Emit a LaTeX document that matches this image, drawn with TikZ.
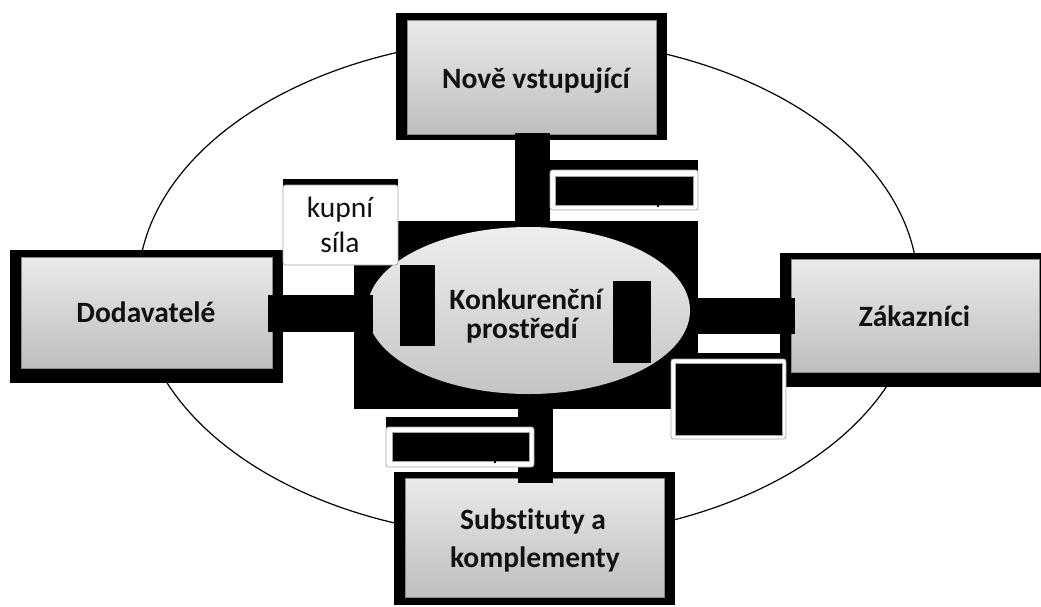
\documentclass[tikz,border=0pt]{standalone}
\usepackage{fontspec}
\setmainfont{Carlito}[Ligatures=NoCommon]
\usetikzlibrary{shapes.geometric}
\definecolor{boxtop}{HTML}{EAEAEA}
\definecolor{boxbot}{HTML}{BEBEBE}
\definecolor{boxedge}{HTML}{8A8A8A}
\definecolor{elltop}{HTML}{EEEEEE}
\definecolor{ellbot}{HTML}{C4C4C4}
\definecolor{ink}{HTML}{111111}
\definecolor{lbledge}{HTML}{A8A8A8}
\begin{document}
\begin{tikzpicture}[x=1pt,y=-1pt,
  ring/.style={ellipse, draw=black, line width=1.2pt, inner sep=0pt},
  panel/.style={rectangle, draw=boxedge, line width=0.9pt, top color=boxtop, bottom color=boxbot, inner sep=0pt},
  blk/.style={fill=black},
  bar/.style={draw=black, line cap=butt},
  core/.style={rectangle, fill=black, inner sep=0pt},
  center/.style={ellipse, top color=elltop, bottom color=ellbot, inner sep=0pt},
  boldtxt/.style={anchor=base, inner sep=0pt, text=ink, font=\fontsize{29.5}{35}\selectfont\bfseries},
  plaintxt/.style={anchor=base, inner sep=0pt, text=ink, font=\fontsize{29.5}{35}\selectfont},
  lbl/.style={rectangle, rounded corners=2.5pt, fill=white, draw=lbledge, line width=0.8pt, inner sep=0pt},
  lblin/.style={fill=black, draw=gray!70, line width=0.5pt}
]
\useasboundingbox (0,0) rectangle (1041,606);
\clip (0,0) rectangle (1041,606);
\fill[white] (0,0) rectangle (1041,606);

% outer ring
\node[ring, minimum width=780pt, minimum height=500pt] (ringe) at (528,288) {};

% four force boxes
\fill[blk] (396,13) rectangle (667,140);
\node[panel, minimum width=249pt, minimum height=114pt] (nove) at (531.5,77) {};
\fill[blk] (10,250) rectangle (283,383);
\node[panel, minimum width=251pt, minimum height=111pt] (dod) at (146.5,312.5) {};
\fill[blk] (780,253) rectangle (1060,387);
\node[panel, minimum width=248pt, minimum height=113pt] (zak) at (915,315.5) {};
\fill[blk] (394,472) rectangle (675,605);
\node[panel, minimum width=259pt, minimum height=119pt] (sub) at (534.5,537.5) {};

% central area
\node[core, minimum width=344pt, minimum height=188pt] (core) at (526,315) {};
\node[center, minimum width=323pt, minimum height=167pt] (konk) at (528.5,310.5) {};

% connectors
\draw[bar, line width=35pt] ([xshift=1pt,yshift=1pt]nove.south) -- ([xshift=1pt]nove.south |- core.north);
\draw[bar, line width=37pt] ([xshift=-4pt,yshift=-1pt]dod.east) -- ([xshift=6pt,yshift=-1pt]konk.west |- dod.east);
\draw[bar, line width=36pt] (core.east |- zak.west) -- ([xshift=4pt]zak.west);
\draw[bar, line width=35pt] ([xshift=1pt]sub.north |- core.south) -- ([xshift=1pt,yshift=-5pt]sub.north);

% black patches on the centre
\fill[blk] (400,265) rectangle (435,346);
\fill[blk] (613,281) rectangle (651,363);

% texts
\node[boldtxt] (tnove) at (536,88) {Nově vstupující};
\node[boldtxt] (tdod) at (146,322) {Dodavatelé};
\node[boldtxt] (tzak) at (914.5,326) {Zákazníci};
\node[boldtxt] (tkonk1) at (526,309) {Konkurenční};
\node[boldtxt] (tkonk2) at (522,338) {prostředí};
\node[boldtxt] (tsub1) at (533,529) {Substituty a};
\node[boldtxt] (tsub2) at (535,567) {komplementy};

% label boxes
\fill[blk] (283,179) rectangle (398,219);
\node[lbl, minimum width=115pt, minimum height=80pt] (kup) at (340.5,225) {};
\node[plaintxt] (tkup1) at (340,217) {kupní};
\node[plaintxt] (tkup2) at (340,252) {síla};

\fill[blk] (550,160) rectangle (698,200);
\node[lbl, minimum width=148pt, minimum height=40pt] (tl) at (624,190) {};
\draw[lblin] (555,176) rectangle (693,205);
\fill[black] (656.5,203) rectangle (658.5,207);

\fill[blk] (386,417) rectangle (534,457);
\node[lbl, minimum width=148pt, minimum height=40pt] (bl) at (460,447) {};
\draw[lblin] (392,432) rectangle (529,461);
\fill[black] (493.5,459) rectangle (495.5,463);

\fill[blk] (671,353) rectangle (786,433);
\node[lbl, minimum width=115pt, minimum height=80pt] (rb) at (728.5,399) {};
\draw[lblin] (675,363) rectangle (782,435);
\end{tikzpicture}
\end{document}
